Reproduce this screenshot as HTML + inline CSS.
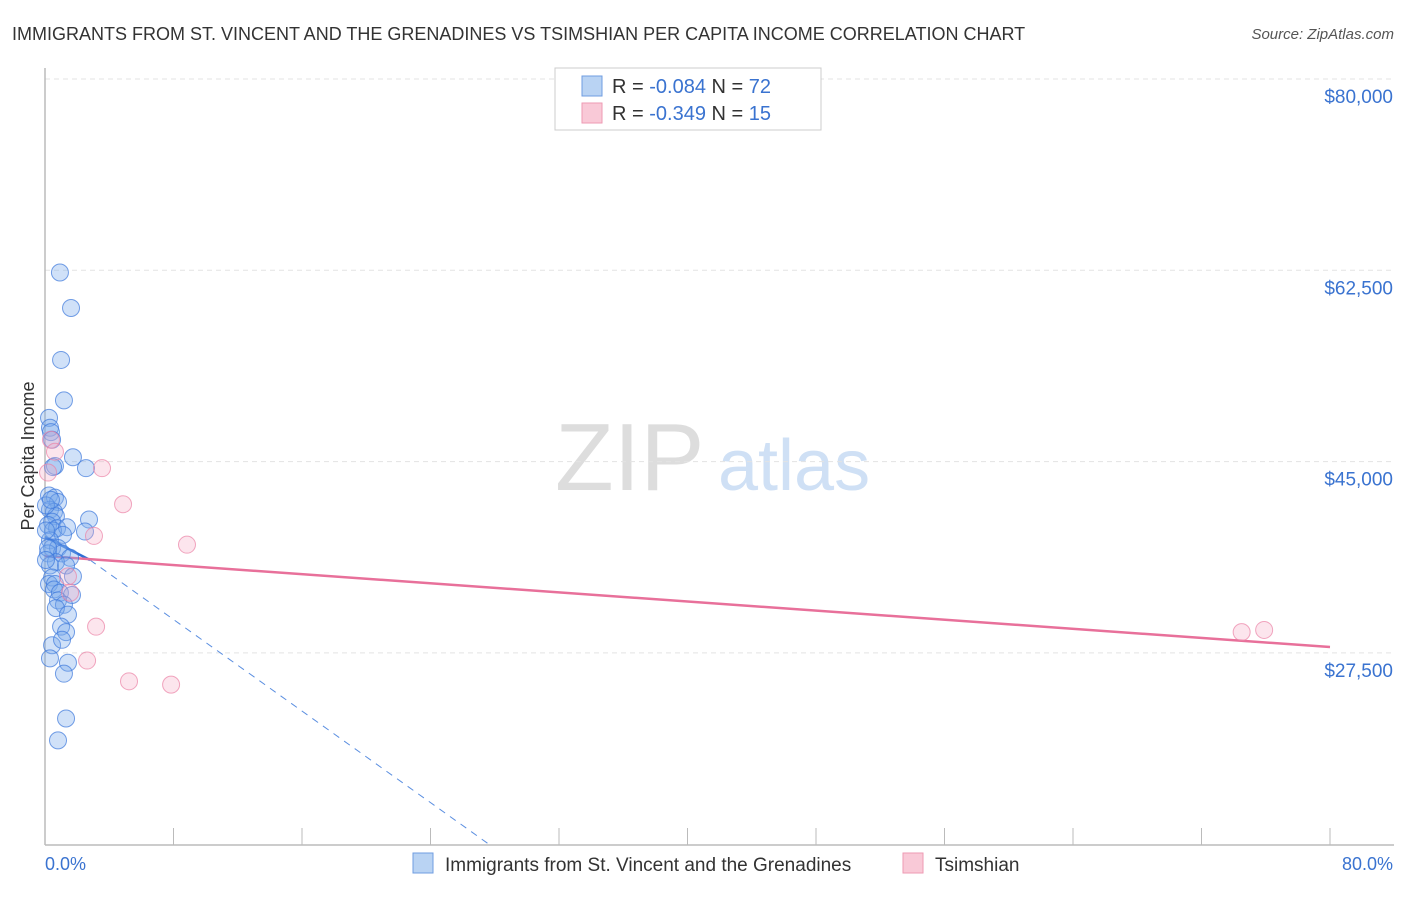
<!DOCTYPE html>
<html><head><meta charset="utf-8"><style>
body{margin:0;background:#fff;font-family:"Liberation Sans",sans-serif}
svg text{font-family:"Liberation Sans",sans-serif}
</style></head><body>
<svg id="chart" width="1406" height="892" xmlns="http://www.w3.org/2000/svg">
<text x="12" y="40" font-size="18" fill="#333">IMMIGRANTS FROM ST. VINCENT AND THE GRENADINES VS TSIMSHIAN PER CAPITA INCOME CORRELATION CHART</text>
<text x="1394" y="39" font-size="15" fill="#555" font-style="italic" text-anchor="end">Source: ZipAtlas.com</text>
<text transform="translate(34,456) rotate(-90)" font-size="18" fill="#333" text-anchor="middle">Per Capita Income</text>
<text x="555" y="490" font-size="96" fill="#ddd" font-family="Liberation Serif">ZIP</text>
<text x="718" y="490" font-size="72" fill="#cfe0f5">atlas</text>
<g id="grid"></g><g id="axes"></g><g id="trend"></g><g id="points"></g>
<g>
<rect x="555" y="68" width="266" height="62" fill="#fff" stroke="#ccc"/>
<rect x="582" y="76" width="20" height="20" fill="#b9d3f3" stroke="#6f9de0"/>
<text x="612" y="93" font-size="20" fill="#333">R = <tspan fill="#3a73d0">-0.084</tspan>   N = <tspan fill="#3a73d0">72</tspan></text>
<rect x="582" y="103" width="20" height="20" fill="#f9c9d7" stroke="#ee9ab3"/>
<text x="612" y="120" font-size="20" fill="#333">R = <tspan fill="#3a73d0">-0.349</tspan>   N = <tspan fill="#3a73d0">15</tspan></text>
</g>
<g>
<rect x="413" y="853" width="20" height="20" fill="#b9d3f3" stroke="#6f9de0"/>
<text x="445" y="871" font-size="19" fill="#333">Immigrants from St. Vincent and the Grenadines</text>
<rect x="903" y="853" width="20" height="20" fill="#f9c9d7" stroke="#ee9ab3"/>
<text x="935" y="871" font-size="19" fill="#333">Tsimshian</text>
</g>
<text x="45" y="870" font-size="18" fill="#3a73d0">0.0%</text>
<text x="1393" y="870" font-size="18" fill="#3a73d0" text-anchor="end">80.0%</text>
</svg>
<script>
const yTicks=[80000,62500,45000,27500];
const yTickLabels=["$80,000","$62,500","$45,000","$27,500"];
const xTicks=[0,8,16,24,32,40,48,56,64,72,80];
const blueX=[0.93,1.62,1.0,1.18,0.25,0.31,0.37,0.44,0.62,1.74,2.55,0.5,0.25,0.62,0.81,0.31,0.56,0.68,0.44,0.19,0.75,0.5,1.37,2.74,2.49,1.12,0.31,0.44,0.81,0.19,1.06,1.56,0.68,0.31,1.31,1.74,0.44,0.25,0.62,0.56,0.93,1.68,0.81,1.18,0.68,1.43,1.0,1.31,0.44,1.06,0.31,1.43,1.18,1.31,0.81,0.19,0.06,0.06,0.06,0.37];
const blueY=[62.3,59.05,54.3,50.6,49.0,48.1,47.7,47.0,44.6,45.4,44.4,44.5,41.9,41.7,41.3,40.6,40.4,40.0,39.5,39.2,38.9,38.7,39.0,39.7,38.6,38.3,37.8,37.1,37.1,36.6,36.6,36.2,35.8,35.5,35.5,34.5,34.4,33.8,33.8,33.3,33.0,32.8,32.3,31.9,31.6,31.0,29.9,29.4,28.2,28.7,27.0,26.6,25.6,21.5,19.5,37.1,36.0,38.7,41.0,41.5];
const pinkX=[0.37,0.62,3.55,4.86,3.05,8.84,1.43,1.56,3.18,2.62,5.23,7.85,74.5,75.9,0.19];
const pinkY=[47.0,45.9,44.4,41.1,38.2,37.4,34.5,33.0,29.9,26.8,24.9,24.6,29.4,29.6,44.0];
const X=v=>45+v*(1285/80);
const Y=v=>79+(80000-v)*(191.3/17500);
const NS="http://www.w3.org/2000/svg";
function mk(tag,attrs,parent){const e=document.createElementNS(NS,tag);for(const k in attrs)e.setAttribute(k,attrs[k]);document.getElementById(parent).appendChild(e);return e;}
yTicks.forEach((t,i)=>{
 const l=mk('line',{x1:45,x2:1394,y1:Y(t),y2:Y(t),stroke:'#e3e3e3','stroke-dasharray':'5,4'},'grid');
 
 
 const tx=mk('text',{x:1393,y:Y(t)+24,'font-size':19,fill:'#3a73d0','text-anchor':'end'},'grid');
 tx.textContent=yTickLabels[i];
 
 
});
const ax=mk('line',{x1:45,x2:45,y1:68,y2:845,stroke:'#bbb','stroke-width':1.5},'axes');


const bx=mk('line',{x1:45,x2:1394,y1:845,y2:845,stroke:'#bbb','stroke-width':1.5},'axes');


xTicks.forEach(t=>{
 const l=mk('line',{x1:X(t),x2:X(t),y1:828,y2:845,stroke:'#bbb'},'axes');
 
 
});
blueX.forEach((v,i)=>{
 const c=mk('circle',{cx:X(v),cy:Y(blueY[i]*1000),r:8.5,fill:'rgba(120,170,235,0.35)',stroke:'rgba(60,120,220,0.7)'},'points');
 
 
});
pinkX.forEach((v,i)=>{
 const c=mk('circle',{cx:X(v),cy:Y(pinkY[i]*1000),r:8.5,fill:'rgba(245,170,195,0.3)',stroke:'rgba(235,130,165,0.7)'},'points');
 
 
});
const t1=mk('line',{x1:45,y1:537,x2:90,y2:560,stroke:'#2e6fd6','stroke-width':2.5},'trend');


const t2=mk('line',{x1:90,y1:560,x2:490,y2:845,stroke:'#5a8ee0','stroke-width':1,'stroke-dasharray':'7,6'},'trend');


const t3=mk('line',{x1:45,y1:556,x2:1330,y2:647,stroke:'#e8709a','stroke-width':2.5},'trend');


</script>
</body></html>
